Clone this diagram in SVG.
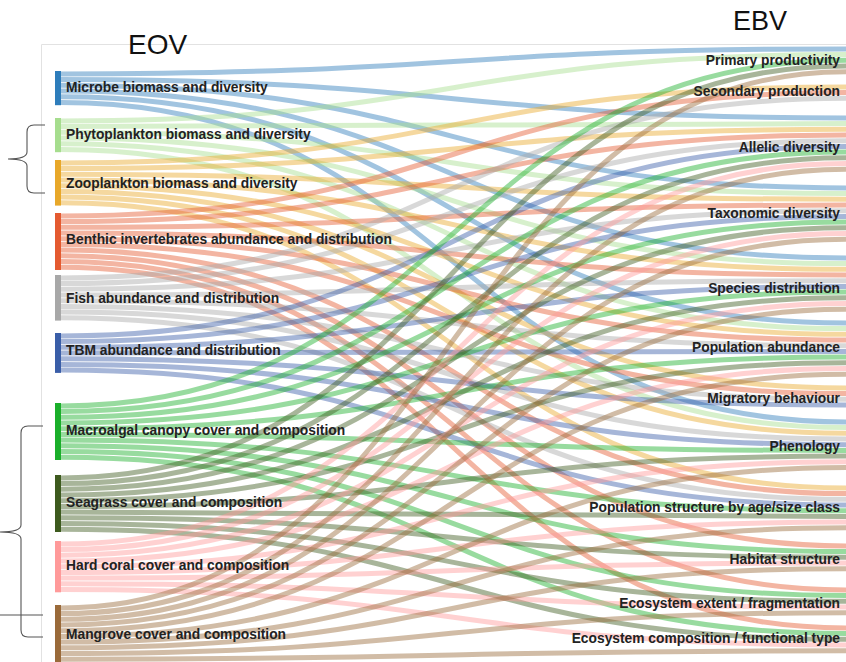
<svg xmlns="http://www.w3.org/2000/svg" width="846" height="662" viewBox="0 0 846 662">
  <style>
    .frame { fill: none; stroke: #e2e2e2; stroke-width: 1; }
    .brace { fill: none; stroke: #555; stroke-width: 1.1; }
    .title { font-family: "Liberation Sans", Arial, sans-serif; fill: #111; }
    .lbl { font-family: "Liberation Sans", Arial, sans-serif; font-size: 13.8px; font-weight: bold; fill: #222; }
    .lbl.r { text-anchor: end; }
    #links path { fill: none; stroke-width: 5; stroke-opacity: 0.45; }
    .mi { stroke: #2e7dbb; } .ph { stroke: #a6dd8e; } .zo { stroke: #e8a82a; }
    .be { stroke: #e45a30; } .fi { stroke: #a8a8a8; } .tb { stroke: #3a5ea8; }
    .ma { stroke: #1aaf2a; } .se { stroke: #3d5a1e; } .ha { stroke: #ff9a9a; }
    .mn { stroke: #9a6a3a; }
  </style>
  <rect width="846" height="662" fill="#fff"/>

  <!-- plot frame -->
  <path class="frame" d="M41.5,662 V44.5 H846"/>

  <!-- headings -->
  <text class="title" x="128" y="54" font-size="28">EOV</text>
  <text class="title" x="733" y="30" font-size="27">EBV</text>

  <!-- brackets -->
  <g id="brackets">
    <path class="brace" d="M45,125 H34 Q27,125 27,132 V152 Q27,159 8,159 Q27,159 27,166 V186 Q27,193 34,193 H45"/>
    <path class="brace" d="M43,426 H28 Q21,426 21,433 V525 Q21,532 0,532 Q21,532 21,539 V630 Q21,637 28,637 H43"/>
    <path class="brace" d="M0,615 H43"/>
  </g>

  <!-- flows: each EOV to the EBVs it informs -->
  <g id="links">
    <path class="mi" d="M61,73.9C453.5,73.9 453.5,48.9 846,48.9"/>
    <path class="mi" d="M61,79.6C453.5,79.6 453.5,117.9 846,117.9"/>
    <path class="mi" d="M61,85.3C453.5,85.3 453.5,187.9 846,187.9"/>
    <path class="mi" d="M61,91C453.5,91 453.5,257.9 846,257.9"/>
    <path class="mi" d="M61,96.7C453.5,96.7 453.5,322.9 846,322.9"/>
    <path class="mi" d="M61,102.4C453.5,102.4 453.5,421.9 846,421.9"/>

    <path class="ph" d="M61,120.9C453.5,120.9 453.5,54.6 846,54.6"/>
    <path class="ph" d="M61,126.6C453.5,126.6 453.5,123.6 846,123.6"/>
    <path class="ph" d="M61,132.3C453.5,132.3 453.5,193.6 846,193.6"/>
    <path class="ph" d="M61,138C453.5,138 453.5,263.6 846,263.6"/>
    <path class="ph" d="M61,143.7C453.5,143.7 453.5,328.6 846,328.6"/>
    <path class="ph" d="M61,149.4C453.5,149.4 453.5,427.6 846,427.6"/>

    <path class="zo" d="M61,162.9C453.5,162.9 453.5,86.9 846,86.9"/>
    <path class="zo" d="M61,168.6C453.5,168.6 453.5,129.3 846,129.3"/>
    <path class="zo" d="M61,174.3C453.5,174.3 453.5,199.3 846,199.3"/>
    <path class="zo" d="M61,180C453.5,180 453.5,269.3 846,269.3"/>
    <path class="zo" d="M61,185.7C453.5,185.7 453.5,334.3 846,334.3"/>
    <path class="zo" d="M61,191.4C453.5,191.4 453.5,387.9 846,387.9"/>
    <path class="zo" d="M61,197.1C453.5,197.1 453.5,433.3 846,433.3"/>
    <path class="zo" d="M61,202.8C453.5,202.8 453.5,487.9 846,487.9"/>

    <path class="be" d="M61,215.9C453.5,215.9 453.5,92.6 846,92.6"/>
    <path class="be" d="M61,221.6C453.5,221.6 453.5,135 846,135"/>
    <path class="be" d="M61,227.3C453.5,227.3 453.5,205 846,205"/>
    <path class="be" d="M61,233C453.5,233 453.5,275 846,275"/>
    <path class="be" d="M61,238.7C453.5,238.7 453.5,340 846,340"/>
    <path class="be" d="M61,244.4C453.5,244.4 453.5,393.6 846,393.6"/>
    <path class="be" d="M61,250.1C453.5,250.1 453.5,493.6 846,493.6"/>
    <path class="be" d="M61,255.8C453.5,255.8 453.5,545.9 846,545.9"/>
    <path class="be" d="M61,261.5C453.5,261.5 453.5,589.9 846,589.9"/>
    <path class="be" d="M61,267.2C453.5,267.2 453.5,627.9 846,627.9"/>

    <path class="fi" d="M61,277.9C453.5,277.9 453.5,98.3 846,98.3"/>
    <path class="fi" d="M61,283.6C453.5,283.6 453.5,140.7 846,140.7"/>
    <path class="fi" d="M61,289.3C453.5,289.3 453.5,210.7 846,210.7"/>
    <path class="fi" d="M61,295C453.5,295 453.5,280.7 846,280.7"/>
    <path class="fi" d="M61,300.7C453.5,300.7 453.5,345.7 846,345.7"/>
    <path class="fi" d="M61,306.4C453.5,306.4 453.5,399.3 846,399.3"/>
    <path class="fi" d="M61,312.1C453.5,312.1 453.5,439 846,439"/>
    <path class="fi" d="M61,317.8C453.5,317.8 453.5,499.3 846,499.3"/>

    <path class="tb" d="M61,335.9C453.5,335.9 453.5,146.4 846,146.4"/>
    <path class="tb" d="M61,341.6C453.5,341.6 453.5,216.4 846,216.4"/>
    <path class="tb" d="M61,347.3C453.5,347.3 453.5,286.4 846,286.4"/>
    <path class="tb" d="M61,353C453.5,353 453.5,351.4 846,351.4"/>
    <path class="tb" d="M61,358.7C453.5,358.7 453.5,405 846,405"/>
    <path class="tb" d="M61,364.4C453.5,364.4 453.5,444.7 846,444.7"/>
    <path class="tb" d="M61,370.1C453.5,370.1 453.5,505 846,505"/>

    <path class="ma" d="M61,405.9C453.5,405.9 453.5,60.3 846,60.3"/>
    <path class="ma" d="M61,411.6C453.5,411.6 453.5,152.1 846,152.1"/>
    <path class="ma" d="M61,417.3C453.5,417.3 453.5,222.1 846,222.1"/>
    <path class="ma" d="M61,423C453.5,423 453.5,292.1 846,292.1"/>
    <path class="ma" d="M61,428.7C453.5,428.7 453.5,357.1 846,357.1"/>
    <path class="ma" d="M61,434.4C453.5,434.4 453.5,450.4 846,450.4"/>
    <path class="ma" d="M61,440.1C453.5,440.1 453.5,510.7 846,510.7"/>
    <path class="ma" d="M61,445.8C453.5,445.8 453.5,551.6 846,551.6"/>
    <path class="ma" d="M61,451.5C453.5,451.5 453.5,595.6 846,595.6"/>
    <path class="ma" d="M61,457.2C453.5,457.2 453.5,633.6 846,633.6"/>

    <path class="se" d="M61,477.9C453.5,477.9 453.5,66 846,66"/>
    <path class="se" d="M61,483.6C453.5,483.6 453.5,157.8 846,157.8"/>
    <path class="se" d="M61,489.3C453.5,489.3 453.5,227.8 846,227.8"/>
    <path class="se" d="M61,495C453.5,495 453.5,297.8 846,297.8"/>
    <path class="se" d="M61,500.7C453.5,500.7 453.5,362.8 846,362.8"/>
    <path class="se" d="M61,506.4C453.5,506.4 453.5,456.1 846,456.1"/>
    <path class="se" d="M61,512.1C453.5,512.1 453.5,516.4 846,516.4"/>
    <path class="se" d="M61,517.8C453.5,517.8 453.5,557.3 846,557.3"/>
    <path class="se" d="M61,523.5C453.5,523.5 453.5,601.3 846,601.3"/>
    <path class="se" d="M61,529.2C453.5,529.2 453.5,639.3 846,639.3"/>

    <path class="ha" d="M61,543.9C453.5,543.9 453.5,163.5 846,163.5"/>
    <path class="ha" d="M61,549.6C453.5,549.6 453.5,233.5 846,233.5"/>
    <path class="ha" d="M61,555.3C453.5,555.3 453.5,303.5 846,303.5"/>
    <path class="ha" d="M61,561C453.5,561 453.5,368.5 846,368.5"/>
    <path class="ha" d="M61,566.7C453.5,566.7 453.5,461.8 846,461.8"/>
    <path class="ha" d="M61,572.4C453.5,572.4 453.5,522.1 846,522.1"/>
    <path class="ha" d="M61,578.1C453.5,578.1 453.5,563 846,563"/>
    <path class="ha" d="M61,583.8C453.5,583.8 453.5,607 846,607"/>
    <path class="ha" d="M61,589.5C453.5,589.5 453.5,645 846,645"/>

    <path class="mn" d="M61,607.9C453.5,607.9 453.5,71.7 846,71.7"/>
    <path class="mn" d="M61,613.6C453.5,613.6 453.5,169.2 846,169.2"/>
    <path class="mn" d="M61,619.3C453.5,619.3 453.5,239.2 846,239.2"/>
    <path class="mn" d="M61,625C453.5,625 453.5,309.2 846,309.2"/>
    <path class="mn" d="M61,630.7C453.5,630.7 453.5,374.2 846,374.2"/>
    <path class="mn" d="M61,636.4C453.5,636.4 453.5,467.5 846,467.5"/>
    <path class="mn" d="M61,642.1C453.5,642.1 453.5,527.8 846,527.8"/>
    <path class="mn" d="M61,647.8C453.5,647.8 453.5,568.7 846,568.7"/>
    <path class="mn" d="M61,653.5C453.5,653.5 453.5,612.7 846,612.7"/>
    <path class="mn" d="M61,659.2C453.5,659.2 453.5,650.7 846,650.7"/>
  </g>

  <!-- EOV nodes -->
  <g id="eov-microbe"><rect x="55" y="71" width="6" height="34.2" fill="#2e7dbb"/><text class="lbl" x="66" y="92">Microbe biomass and diversity</text></g>
  <g id="eov-phytoplankton"><rect x="55" y="118" width="6" height="34.2" fill="#a6dd8e"/><text class="lbl" x="66" y="139">Phytoplankton biomass and diversity</text></g>
  <g id="eov-zooplankton"><rect x="55" y="160" width="6" height="45.6" fill="#e8a82a"/><text class="lbl" x="66" y="187.5">Zooplankton biomass and diversity</text></g>
  <g id="eov-benthic"><rect x="55" y="213" width="6" height="57" fill="#e45a30"/><text class="lbl" x="66" y="243.5">Benthic invertebrates abundance and distribution</text></g>
  <g id="eov-fish"><rect x="55" y="275" width="6" height="45.6" fill="#a8a8a8"/><text class="lbl" x="66" y="302.5">Fish abundance and distribution</text></g>
  <g id="eov-tbm"><rect x="55" y="333" width="6" height="39.9" fill="#3a5ea8"/><text class="lbl" x="66" y="354.5">TBM abundance and distribution</text></g>
  <g id="eov-macroalgal"><rect x="55" y="403" width="6" height="57" fill="#1aaf2a"/><text class="lbl" x="66" y="434.5">Macroalgal canopy cover and composition</text></g>
  <g id="eov-seagrass"><rect x="55" y="475" width="6" height="57" fill="#3d5a1e"/><text class="lbl" x="66" y="506.5">Seagrass cover and composition</text></g>
  <g id="eov-coral"><rect x="55" y="541" width="6" height="51.3" fill="#ff9a9a"/><text class="lbl" x="66" y="569.5">Hard coral cover and composition</text></g>
  <g id="eov-mangrove"><rect x="55" y="605" width="6" height="57" fill="#9a6a3a"/><text class="lbl" x="66" y="638.5">Mangrove cover and composition</text></g>

  <!-- EBV nodes -->
  <g id="ebv-primary"><text class="lbl r" x="840" y="65">Primary productivity</text></g>
  <g id="ebv-secondary"><text class="lbl r" x="840" y="95.5">Secondary production</text></g>
  <g id="ebv-allelic"><text class="lbl r" x="840" y="151.5">Allelic diversity</text></g>
  <g id="ebv-taxonomic"><text class="lbl r" x="840" y="218">Taxonomic diversity</text></g>
  <g id="ebv-species"><text class="lbl r" x="840" y="292.5">Species distribution</text></g>
  <g id="ebv-abundance"><text class="lbl r" x="840" y="352">Population abundance</text></g>
  <g id="ebv-migratory"><text class="lbl r" x="840" y="402.5">Migratory behaviour</text></g>
  <g id="ebv-phenology"><text class="lbl r" x="840" y="451">Phenology</text></g>
  <g id="ebv-structure"><text class="lbl r" x="840" y="512">Population structure by age/size class</text></g>
  <g id="ebv-habitat"><text class="lbl r" x="840" y="564">Habitat structure</text></g>
  <g id="ebv-extent"><text class="lbl r" x="840" y="607.5">Ecosystem extent / fragmentation</text></g>
  <g id="ebv-composition"><text class="lbl r" x="840" y="642.5">Ecosystem composition / functional type</text></g>
</svg>
